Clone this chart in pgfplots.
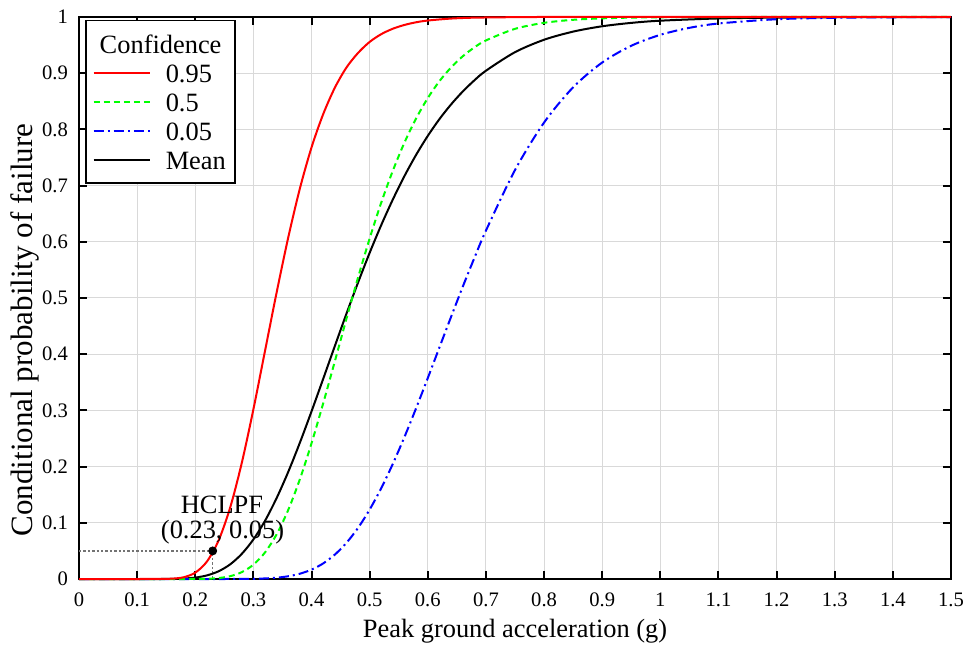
\documentclass[border=0pt]{standalone}
\usepackage{fontspec}
\setmainfont{Liberation Serif}
\usepackage{pgfplots}
\usepackage{pgfplotstable}
\pgfplotsset{compat=1.18}

% fragility curves: x = PGA (g), y = conditional probability of failure
\pgfplotstableread{
x y
0 0
0.10 0
0.14 0.0001
0.16 0.0006
0.18 0.0031
0.20 0.0113
0.22 0.0310
0.24 0.0683
0.26 0.1270
0.28 0.2065
0.30 0.3020
0.32 0.4060
0.34 0.5100
0.36 0.6080
0.38 0.6950
0.40 0.7680
0.42 0.8270
0.44 0.8740
0.46 0.9100
0.48 0.9360
0.50 0.9557
0.52 0.9695
0.54 0.9792
0.56 0.9859
0.58 0.9906
0.60 0.9937
0.64 0.9972
0.68 0.9988
0.75 0.9997
0.80 1
1.00 1
1.50 1
}\conf

\pgfplotstableread{
x y
0 0
0.18 0
0.20 0.0001
0.22 0.0005
0.24 0.0017
0.26 0.0050
0.28 0.0122
0.30 0.0255
0.32 0.0473
0.34 0.0796
0.36 0.1231
0.38 0.1777
0.40 0.2416
0.42 0.3124
0.44 0.3870
0.46 0.4628
0.48 0.5364
0.50 0.6060
0.52 0.6700
0.54 0.7269
0.56 0.7769
0.58 0.8197
0.60 0.8558
0.62 0.8858
0.64 0.9102
0.66 0.9300
0.68 0.9458
0.70 0.9583
0.75 0.9789
0.80 0.9896
0.85 0.9950
0.90 0.9976
0.95 0.9989
1.00 0.9995
1.10 0.9999
1.20 1
1.50 1
}\confmed

\pgfplotstableread{
x y
0 0
0.25 0
0.30 0.0004
0.32 0.0010
0.34 0.0023
0.36 0.0049
0.38 0.0094
0.40 0.0167
0.42 0.0277
0.44 0.0433
0.46 0.0643
0.48 0.0909
0.50 0.1236
0.52 0.1618
0.54 0.2053
0.56 0.2531
0.58 0.3043
0.60 0.3576
0.62 0.4121
0.64 0.4664
0.66 0.5198
0.68 0.5710
0.70 0.6199
0.75 0.7277
0.80 0.8122
0.85 0.8749
0.90 0.9190
0.95 0.9488
1.00 0.9683
1.05 0.9807
1.10 0.9884
1.20 0.9960
1.30 0.9986
1.40 0.9995
1.50 0.9999
}\conflow

\pgfplotstableread{
x y
0 0
0.10 0
0.14 0.0000
0.16 0.0002
0.18 0.0008
0.20 0.0025
0.22 0.0064
0.24 0.0137
0.26 0.0260
0.28 0.0447
0.30 0.0704
0.32 0.1036
0.34 0.1441
0.36 0.1908
0.38 0.2427
0.40 0.2983
0.42 0.3560
0.44 0.4143
0.46 0.4719
0.48 0.5275
0.50 0.5805
0.52 0.6300
0.54 0.6756
0.56 0.7173
0.58 0.7549
0.60 0.7885
0.62 0.8183
0.64 0.8444
0.66 0.8673
0.68 0.8872
0.70 0.9044
0.75 0.9374
0.80 0.9595
0.85 0.9740
0.90 0.9835
0.95 0.9895
1.00 0.9934
1.10 0.9974
1.20 0.9989
1.30 0.9996
1.40 0.9998
1.50 0.9999
}\meancurve

\begin{document}
\begin{tikzpicture}
\begin{axis}[
    scale only axis,
    width=436pt, height=281pt,
    xmin=0, xmax=1.5, ymin=0, ymax=1,
    xtick={0,0.1,0.2,0.3,0.4,0.5,0.6,0.7,0.8,0.9,1,1.1,1.2,1.3,1.4,1.5},
    ytick={0,0.1,0.2,0.3,0.4,0.5,0.6,0.7,0.8,0.9,1},
    tick pos=both, tick align=inside,
    major tick length=4pt,
    every tick/.style={black, line width=1pt},
    axis line style={line width=1pt},
    grid=major,
    grid style={black!15, line width=0.5pt},
    /pgf/number format/assume math mode=true,
    tick label style={font=\rmfamily\fontsize{10.3}{12}\selectfont},
    xticklabel style={yshift=-3.6pt},
    yticklabel style={xshift=-2pt},
    xlabel={Peak ground acceleration (g)},
    ylabel={Conditional probability of failure},
    xlabel style={font=\rmfamily\fontsize{13.2}{15}\selectfont, at={(axis description cs:0.5,0)}, anchor=base, yshift=-29pt},
    ylabel style={font=\rmfamily\fontsize{15.5}{17}\selectfont, at={(axis description cs:-0.062,0.443)}, anchor=center, rotate=0},
    clip=false,
    legend image code/.code={\draw[#1] (0pt,0pt) -- (28pt,0pt);},
    legend cell align=left,
    legend style={at={(axis description cs:0,1)}, anchor=north west,
        xshift=3pt, yshift=-1.5pt, draw=black, line width=0.75pt,
        font=\rmfamily\fontsize{13.2}{14}\selectfont,
        inner xsep=3.5pt, inner ysep=4.3pt, column sep=6.5pt, row sep=0pt,
        nodes={inner sep=1pt, text height=11.2pt, text depth=1.3pt}},
]
\addlegendimage{empty legend}
\addlegendentry{\hspace*{-33pt}Confidence}
\addlegendimage{red, line width=1pt}
\addlegendentry{0.95}
\addlegendimage{green, line width=1pt, dash pattern=on 3pt off 2pt}
\addlegendentry{0.5}
\addlegendimage{blue, line width=1pt, dash pattern=on 5pt off 2pt on 1pt off 2pt}
\addlegendentry{0.05}
\addlegendimage{black, line width=1pt}
\addlegendentry{Mean}

\addplot[forget plot, black!55, line width=0.6pt, dash pattern=on 1.2pt off 1pt] coordinates {(0,0.05) (0.23,0.05) (0.23,0)};
\addplot[forget plot, black, line width=1pt, smooth] table {\meancurve};
\addplot[forget plot, blue, line width=1pt, smooth, dash pattern=on 5pt off 2pt on 1pt off 2pt] table {\conflow};
\addplot[forget plot, green, line width=1pt, smooth, dash pattern=on 3pt off 2pt] table {\confmed};
\addplot[forget plot, red, line width=1pt, smooth] table {\conf};
\addplot[forget plot, only marks, mark=*, mark size=2pt, black] coordinates {(0.23,0.05)};

\node[font=\rmfamily\fontsize{13.2}{14}\selectfont, anchor=base] at (axis cs:0.246,0.117) {HCLPF};
\node[font=\rmfamily\fontsize{13.2}{14}\selectfont, anchor=base] at (axis cs:0.247,0.0724) {(0.23, 0.05)};

\coordinate (SW) at (rel axis cs:0,0);
\coordinate (NE) at (rel axis cs:1,1);
\end{axis}
\pgfresetboundingbox
\path[use as bounding box] ([shift={(-39.5pt,-33.5pt)}]SW) rectangle ([shift={(7.5pt,8.5pt)}]NE);
\end{tikzpicture}
\end{document}
